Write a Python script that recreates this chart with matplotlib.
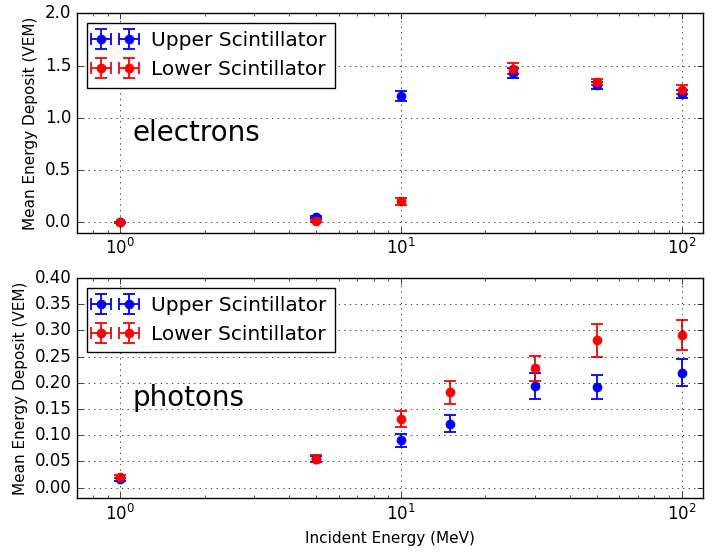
import numpy as np
import matplotlib
matplotlib.use("Agg")
import matplotlib.pyplot as plt

plt.style.use("classic")

# electrons
e_energy = [1, 5, 10, 25, 50, 100]
e_upper = [0.0, 0.05, 1.21, 1.43, 1.31, 1.23]
e_upper_err = [0.005, 0.01, 0.045, 0.045, 0.035, 0.04]
e_lower = [0.0, 0.01, 0.20, 1.47, 1.34, 1.27]
e_lower_err = [0.005, 0.01, 0.03, 0.05, 0.03, 0.04]

# photons
p_energy = [1, 5, 10, 15, 30, 50, 100]
p_upper = [0.016, 0.054, 0.090, 0.122, 0.194, 0.192, 0.219]
p_upper_err = [0.003, 0.006, 0.012, 0.016, 0.025, 0.023, 0.026]
p_lower = [0.021, 0.055, 0.131, 0.182, 0.228, 0.281, 0.291]
p_lower_err = [0.003, 0.007, 0.015, 0.022, 0.024, 0.031, 0.029]

fig = plt.figure(figsize=(7.12, 5.53), dpi=100, facecolor="white")
ax1 = fig.add_axes([0.108, 0.579, 0.879, 0.397])
ax2 = fig.add_axes([0.108, 0.0995, 0.879, 0.3975])


def draw(ax, x, up, up_err, lo, lo_err, ylim, yticks, label):
    conts = []
    for vals, errs, c, lab in [(up, up_err, "b", "Upper Scintillator"),
                               (lo, lo_err, "r", "Lower Scintillator")]:
        conts.append(ax.errorbar(x, vals, yerr=errs, xerr=np.zeros(len(x)),
                                 fmt="o", color=c, mec=c, ms=6.5, capsize=4,
                                 elinewidth=1.3, capthick=1.3, label=lab))
    ax.set_xscale("log")
    ax.set_xlim(0.7, 119)
    ax.set_ylim(*ylim)
    ax.set_yticks(yticks)
    ax.grid(True, which="major", color="black", linestyle=":")
    ax.set_ylabel("Mean Energy Deposit (VEM)", fontsize=11)
    ax.legend(loc="upper left", numpoints=2, fontsize=14.5)
    # zero-width x errors: keep them in the legend, hide them on the plot
    for cont in conts:
        for cap in cont[1][:2]:
            cap.set_visible(False)
    ax.text(0.089, 0.455, label, transform=ax.transAxes, fontsize=20, va="center")


draw(ax1, e_energy, e_upper, e_upper_err, e_lower, e_lower_err,
     (-0.1, 2.0), np.arange(0, 2.01, 0.5), "electrons")
ax1.set_yticklabels(["0.0", "0.5", "1.0", "1.5", "2.0"])
draw(ax2, p_energy, p_upper, p_upper_err, p_lower, p_lower_err,
     (-0.02, 0.40), np.arange(0, 0.401, 0.05), "photons")
ax2.set_yticklabels(["%.2f" % v for v in np.arange(0, 0.401, 0.05)])
ax2.set_xlabel("Incident Energy (MeV)", fontsize=11)

plt.savefig("out.png", dpi=100, facecolor="white")
